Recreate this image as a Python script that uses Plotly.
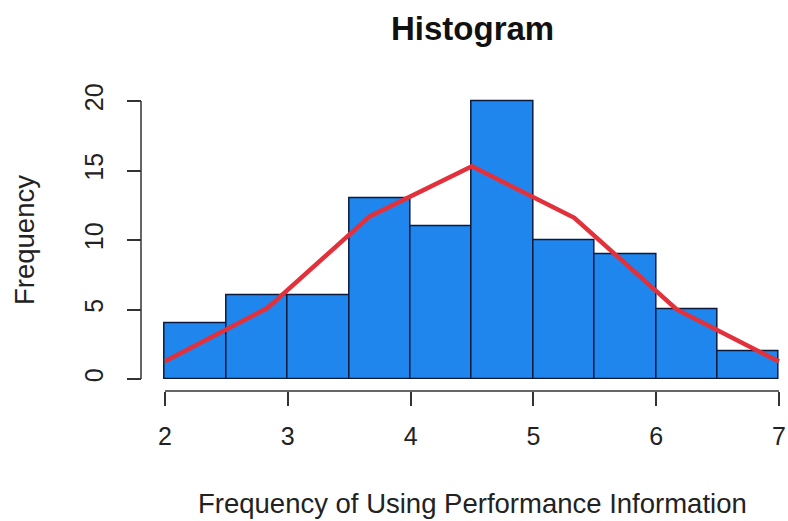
import plotly.graph_objects as go

# Data
bin_edges = [2.0, 2.5, 3.0, 3.5, 4.0, 4.5, 5.0, 5.5, 6.0, 6.5, 7.0]
counts = [4, 6, 6, 13, 11, 20, 10, 9, 5, 2]
density_x = [2.0, 2.833, 3.667, 4.5, 5.333, 6.167, 7.0]
density_y = [1.27, 5.1, 11.7, 15.3, 11.6, 5.0, 1.25]
x_ticks = [2, 3, 4, 5, 6, 7]
y_ticks = [0, 5, 10, 15, 20]

W, H = 788, 521
centers = [(a + b) / 2 for a, b in zip(bin_edges[:-1], bin_edges[1:])]
widths = [b - a for a, b in zip(bin_edges[:-1], bin_edges[1:])]

fig = go.Figure()
fig.add_trace(go.Bar(x=centers, y=counts, width=widths,
                     marker=dict(color="#1f86ee", line=dict(color="#0b1a3c", width=1.5)),
                     showlegend=False))
fig.add_trace(go.Scatter(x=density_x, y=density_y, mode="lines",
                         line=dict(color="#e2313a", width=4.5), showlegend=False))

# pixel geometry
px_x2, px_x7 = 165, 779
ppu_x = (px_x7 - px_x2) / 5
px_y0, px_y20 = 379, 101
ppu_y = (px_y0 - px_y20) / 20
xr = [1.98, 7.02]
yr = [0, 20.2]
xd = [(px_x2 + (xr[0] - 2) * ppu_x) / W, (px_x2 + (xr[1] - 2) * ppu_x) / W]
yd = [(H - px_y0) / H, (H - (px_y0 - yr[1] * ppu_y)) / H]

font = "Liberation Sans, Arial, sans-serif"
axcol = "#333333"
fig.update_layout(
    width=W, height=H, margin=dict(l=0, r=0, t=0, b=0, autoexpand=False),
    plot_bgcolor="white", paper_bgcolor="white", bargap=0,
    font=dict(family=font, color="#222222", size=25),
    xaxis=dict(range=xr, domain=xd, anchor="free", position=(H - 391) / H,
               tickvals=x_ticks, ticks="outside", ticklen=14, tickwidth=1.5, tickcolor=axcol,
               showline=False, showgrid=False, zeroline=False,
               tickfont=dict(size=25), ticklabelstandoff=9),
    yaxis=dict(range=yr, domain=yd, anchor="free", position=141 / W,
               tickvals=y_ticks, ticks="outside", ticklen=14, tickwidth=1.5, tickcolor=axcol,
               showline=False, showgrid=False, zeroline=False, tickangle=-90,
               tickfont=dict(size=25), ticklabelstandoff=14),
)
# axis lines spanning first to last tick (R style)
fig.add_shape(type="line", xref="x", yref="paper", x0=x_ticks[0], x1=x_ticks[-1],
              y0=(H - 391) / H, y1=(H - 391) / H, line=dict(color=axcol, width=1.5))
fig.add_shape(type="line", xref="paper", yref="y", x0=141 / W, x1=141 / W,
              y0=y_ticks[0], y1=y_ticks[-1], line=dict(color=axcol, width=1.5))

fig.add_annotation(text="<b>Histogram</b>", x=472 / W, y=(H - 28) / H, xref="paper", yref="paper",
                   showarrow=False, font=dict(size=33, color="#111111"), xanchor="center", yanchor="middle")
fig.add_annotation(text="Frequency of Using Performance Information", x=472 / W, y=(H - 503) / H,
                   xref="paper", yref="paper", showarrow=False, font=dict(size=27.5),
                   xanchor="center", yanchor="middle")
fig.add_annotation(text="Frequency", x=24 / W, y=(H - 240) / H, xref="paper", yref="paper",
                   showarrow=False, font=dict(size=27.5), textangle=-90,
                   xanchor="center", yanchor="middle")

fig.write_html("out.html")
